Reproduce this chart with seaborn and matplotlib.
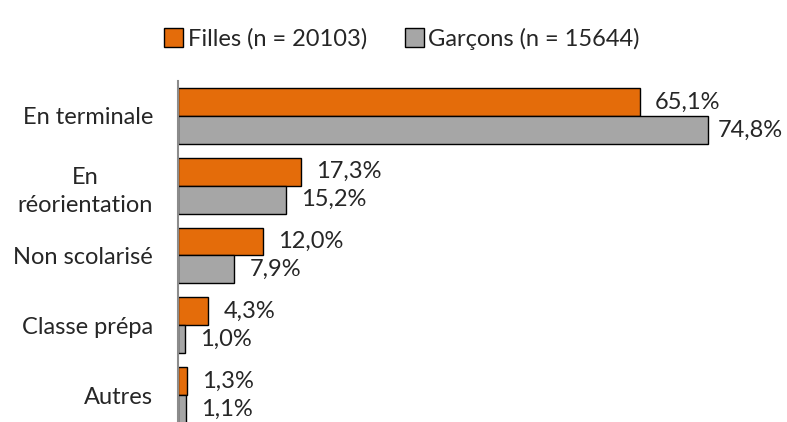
import seaborn as sns
import matplotlib.pyplot as plt
import pandas as pd

# Data
categories = ["En terminale", "En\nréorientation", "Non scolarisé", "Classe prépa", "Autres"]
filles = [65.1, 17.3, 12.0, 4.3, 1.3]
garcons = [74.8, 15.2, 7.9, 1.0, 1.1]
series = ["Filles (n = 20103)", "Garçons (n = 15644)"]

df = pd.DataFrame({
    "cat": categories * 2,
    "val": filles + garcons,
    "serie": [series[0]] * len(categories) + [series[1]] * len(categories),
})

sns.set_style("white")
plt.rcParams['font.family'] = ['Lato', 'DejaVu Sans']

fig = plt.figure(figsize=(7.87, 4.22), dpi=100)
ax = fig.add_axes([178 / 787, -8 / 422, 570 / 787, 349 / 422])

sns.barplot(data=df, x="val", y="cat", hue="serie", orient="h",
            palette=["#E46C0A", "#A6A6A6"], saturation=1,
            edgecolor="black", linewidth=1, width=0.8, ax=ax)

ax.set_xlim(0, 80.4)
ax.set_xlabel("")
ax.set_ylabel("")
ax.set_xticks([])
for s in ["top", "right", "bottom"]:
    ax.spines[s].set_visible(False)
ax.spines["left"].set_color("#8C8C8C")
ax.spines["left"].set_linewidth(1.5)
ax.tick_params(axis="y", length=0, pad=18, labelsize=17)
for lab in ax.get_yticklabels():
    lab.set_multialignment("center")
    lab.set_linespacing(1.45)

# value labels (the longest one sits closer to its bar, as in the original)
vmax = max(filles + garcons)
for cont in ax.containers:
    for bar, v in zip(cont, cont.datavalues):
        pad = 7 if v == vmax else 11
        ax.annotate(f"{v:.1f}%".replace(".", ","),
                    (bar.get_width(), bar.get_y() + bar.get_height() / 2),
                    xytext=(pad, 0), textcoords="offset points",
                    ha="left", va="center", fontsize=17)

handles, labels = ax.get_legend_handles_labels()
ax.legend(handles, labels, loc="upper center", bbox_to_anchor=(402 / 787, 0.985),
          bbox_transform=fig.transFigure, ncol=2, frameon=False, fontsize=17,
          handlelength=0.8, handleheight=0.8, handletextpad=0.2, columnspacing=1.6)

plt.savefig("out.png", dpi=100)
